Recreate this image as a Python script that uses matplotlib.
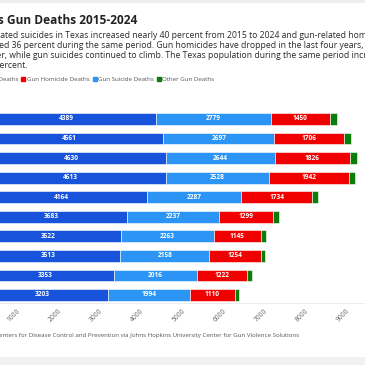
import matplotlib.pyplot as plt
from matplotlib.lines import Line2D
from matplotlib.patches import Rectangle
import numpy as np

plt.rcParams["font.family"] = ["Open Sans", "DejaVu Sans"]

YEARS = ["2015", "2016", "2017", "2018", "2019", "2020", "2021", "2022", "2023", "2024"]
TOTAL = [3203, 3353, 3513, 3522, 3683, 4164, 4613, 4630, 4561, 4389]
SUICIDE = [1994, 2016, 2158, 2263, 2237, 2287, 2528, 2644, 2697, 2779]
HOMICIDE = [1110, 1222, 1254, 1145, 1299, 1734, 1942, 1826, 1706, 1450]
OTHER = [99, 115, 101, 114, 147, 143, 143, 160, 158, 160]
X_TICKS = [1000, 2000, 3000, 4000, 5000, 6000, 7000, 8000, 9000]

SERIES = [
    ("Total Gun Deaths", TOTAL, "#1753db"),
    ("Gun Suicide Deaths", SUICIDE, "#2b94f4"),
    ("Gun Homicide Deaths", HOMICIDE, "#f00000"),
    ("Other Gun Deaths", OTHER, "#0a7d0a"),
]
LEGEND_ORDER = ["Total Gun Deaths", "Gun Homicide Deaths", "Gun Suicide Deaths", "Other Gun Deaths"]

TITLE = "Texas Gun Deaths 2015-2024"
SUBTITLE = [
    "Gun-related suicides in Texas increased nearly 40 percent from 2015 to 2024 and gun-related homicides",
    "increased 36 percent during the same period. Gun homicides have dropped in the last four years,",
    "however, while gun suicides continued to climb. The Texas population during the same period increased",
    "by 14 percent.",
]
SOURCE = ("Source: Centers for Disease Control and Prevention via Johns Hopkins "
          "University Center for Gun Violence Solutions")

W = H = 365
fig = plt.figure(figsize=(W / 100, H / 100), dpi=100)


def fx(px):
    return px / W


def fy(py):
    return 1 - py / H


# card edges
fig.add_artist(Rectangle((0, fy(3)), 1, fy(0) - fy(3), transform=fig.transFigure,
                         color="#eeeeee", lw=0, zorder=0))
fig.add_artist(Rectangle((0, 0), 1, fy(357), transform=fig.transFigure,
                         color="#f1f1f1", lw=0, zorder=0))

px_per_unit = 0.0411
x_max = 9500
ax = fig.add_axes([fx(-24), fy(303), fx(x_max * px_per_unit), fy(100) - fy(303)])

y = np.arange(len(YEARS))
left = np.zeros(len(YEARS))
for name, values, color in SERIES:
    vals = np.asarray(values, dtype=float)
    ax.barh(y, vals, left=left, height=0.6, color=color,
            edgecolor="white", linewidth=0.4, label=name)
    if name != "Other Gun Deaths":
        for yi, l, v in zip(y, left, vals):
            ax.text(l + v / 2, yi, f"{int(v)}", ha="center", va="center",
                    color="white", fontsize=4.7, fontweight="bold")
    left += vals

ax.set_xlim(0, x_max)
ax.set_ylim(-0.41, 9.97)
ax.set_yticks(y)
ax.set_yticklabels(YEARS, fontsize=5)
ax.set_xticks(X_TICKS)
ax.set_xticklabels([str(t) for t in X_TICKS], rotation=45, ha="right", va="top",
                   rotation_mode="anchor", fontsize=4.8, color="#666666")
ax.tick_params(axis="both", length=0, pad=3)
for side in ("top", "right", "left"):
    ax.spines[side].set_visible(False)
ax.spines["bottom"].set_color("#e8e8e8")
ax.spines["bottom"].set_linewidth(0.6)

fig.text(fx(-29), fy(24), TITLE, fontsize=8.6, fontweight="bold",
         color="#222222", va="baseline", ha="left")
for i, line in enumerate(SUBTITLE):
    fig.text(fx(-30), fy(37.5 + 10 * i), line, fontsize=6.2, color="#2a2a2a",
             va="baseline", ha="left")

colors = {name: color for name, _, color in SERIES}
handles = [Line2D([], [], marker="s", linestyle="none", markersize=3.4,
                  markerfacecolor=colors[n], markeredgecolor=colors[n]) for n in LEGEND_ORDER]
leg_x = -30
leg = fig.legend(handles, LEGEND_ORDER, loc="center left", bbox_to_anchor=(fx(leg_x), fy(79)),
                 ncol=4, frameon=False, fontsize=4.4, handlelength=0.6, handletextpad=0.3,
                 columnspacing=0.5, borderpad=0, borderaxespad=0, labelcolor="#555555")
# slide the legend so "Gun Homicide Deaths" starts where it does in the source
fig.canvas.draw()
start = leg.get_texts()[1].get_window_extent().x0
leg.set_bbox_to_anchor((fx(leg_x + 27 - start), fy(79)), transform=fig.transFigure)

fig.text(fx(-28), fy(335), SOURCE, fontsize=4.4, color="#555555", va="center", ha="left")

fig.savefig("out.png", dpi=100)
